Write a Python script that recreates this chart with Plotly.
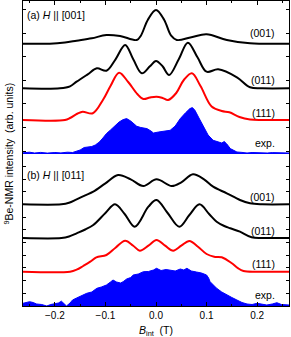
import plotly.graph_objects as go

# ---------------- data (B_int in T, intensity in arb. units) ----------------
# Panel (a) H || [001]
a001_B = [-0.263, -0.21, -0.18, -0.157, -0.127, -0.098, -0.071, -0.038, -0.03, -0.016, 0.0, 0.016, 0.03, 0.041, 0.07, 0.1, 0.14, 0.186, 0.21, 0.263]
a001_I = [0, 0, 1.2, 3, 5.4, 8.7, 7.7, 3.7, 8, 24, 33.7, 24, 8, 3.7, 6.5, 9.4, 3.7, 0.4, 0, 0]

a011_B = [-0.263, -0.19, -0.17, -0.157, -0.135, -0.117, -0.098, -0.08, -0.061, -0.045, -0.028, -0.012, 0.0, 0.013, 0.026, 0.045, 0.063, 0.082, 0.1, 0.123, 0.16, 0.186, 0.21, 0.263]
a011_I = [0, 0, 2, 6.6, 14, 20, 17.6, 29, 43.3, 29, 15, 22, 27.3, 22, 13.3, 29, 45.6, 31, 16.6, 19, 11, 1, 0, 0]

a111_B = [-0.263, -0.18, -0.17, -0.155, -0.145, -0.125, -0.105, -0.09, -0.073, -0.055, -0.037, -0.025, -0.012, 0.001, 0.013, 0.024, 0.04, 0.055, 0.071, 0.088, 0.11, 0.13, 0.145, 0.165, 0.186, 0.21, 0.263]
a111_I = [0, 0, 2, 6.5, 8.3, 6.7, 20, 34, 47.3, 38, 26, 21, 22.5, 23.3, 22, 20, 27, 40, 46.7, 34, 13.5, 9, 7.7, 3, 0.5, 0, 0]

aexp_B = [-0.263, -0.25, -0.24, -0.228, -0.215, -0.2, -0.188, -0.175, -0.165, -0.157, -0.15, -0.142, -0.135, -0.127, -0.12, -0.112, -0.105, -0.098, -0.09, -0.081, -0.073, -0.065, -0.058, -0.05, -0.044, -0.038, -0.03, -0.018, -0.01, -0.005, 0.005, 0.015, 0.028, 0.038, 0.048, 0.058, 0.067, 0.072, 0.077, 0.085, 0.094, 0.103, 0.113, 0.122, 0.13, 0.135, 0.14, 0.147, 0.155, 0.16, 0.17, 0.18, 0.19, 0.2, 0.21, 0.22, 0.23, 0.24, 0.25, 0.263]
aexp_I = [1.2, 1.8, 1.0, 1.6, 0.9, 1.5, 1.1, 1.8, 1.5, 2.5, 4, 6.5, 7, 7.5, 9, 12, 16, 20.4, 24, 28.4, 32, 34.4, 35.4, 33, 30, 27.7, 26.5, 25.4, 23, 21, 22, 22.5, 23.7, 28, 35.4, 41, 45.4, 46.4, 43.7, 36, 27, 19, 13.7, 12.5, 11, 12.5, 10, 5.4, 3, 2, 1.6, 1, 1.5, 1.2, 1.6, 1, 1.4, 1.2, 1.5, 1]

# Panel (b) H || [011]
b001_B = [-0.263, -0.187, -0.172, -0.157, -0.14, -0.124, -0.1, -0.075, -0.05, -0.025, 0.001, 0.031, 0.05, 0.073, 0.095, 0.113, 0.14, 0.166, 0.186, 0.21, 0.263]
b001_I = [0, 0, 1.5, 5, 9, 12.6, 21, 29.3, 25, 18.3, 25, 18.3, 22, 30, 25, 17.6, 11, 4.3, 1, 0, 0]

b011_B = [-0.263, -0.187, -0.172, -0.157, -0.14, -0.124, -0.1, -0.081, -0.062, -0.042, -0.015, 0.001, 0.023, 0.046, 0.066, 0.086, 0.105, 0.12, 0.135, 0.147, 0.166, 0.189, 0.21, 0.263]
b011_I = [0, 0, 1.5, 4.7, 8.5, 13, 25, 33.7, 24, 11.3, 31.3, 38, 25, 11.3, 23, 33.7, 24, 16.3, 12, 9.7, 6.3, 0.7, 0, 0]

b111_B = [-0.263, -0.17, -0.157, -0.144, -0.13, -0.118, -0.098, -0.08, -0.061, -0.045, -0.032, -0.015, 0.001, 0.018, 0.034, 0.05, 0.066, 0.083, 0.1, 0.115, 0.13, 0.15, 0.162, 0.173, 0.2, 0.263]
b111_I = [0, 0, 2, 5.7, 10, 14.4, 16.7, 24, 31, 26, 21, 26, 31.7, 26, 21, 26, 30.7, 25, 17.7, 15, 14.4, 8.4, 3.5, 0.7, 0, 0]

bexp_B = [-0.263, -0.25, -0.243, -0.236, -0.226, -0.216, -0.208, -0.2, -0.193, -0.187, -0.182, -0.177, -0.17, -0.165, -0.157, -0.147, -0.137, -0.127, -0.117, -0.108, -0.098, -0.09, -0.085, -0.078, -0.07, -0.065, -0.058, -0.05, -0.045, -0.035, -0.025, -0.015, -0.005, 0.001, 0.01, 0.02, 0.028, 0.038, 0.048, 0.055, 0.061, 0.07, 0.08, 0.09, 0.1, 0.104, 0.107, 0.112, 0.12, 0.13, 0.14, 0.15, 0.16, 0.17, 0.18, 0.19, 0.2, 0.21, 0.219, 0.23, 0.239, 0.248, 0.259, 0.263]
bexp_I = [2.7, 4.3, 3.5, 2, 1.5, 0, 1.5, 2, 3, 4.8, 2, 0, 3, 6, 8, 10.5, 12.7, 14, 17.7, 19, 21, 24, 26, 24, 23, 24.3, 27, 28.5, 31, 32, 34.3, 34.5, 36, 37.7, 35.5, 36.5, 36, 35, 37, 36, 37.7, 35, 34, 33, 31, 28, 24.3, 21.5, 17.7, 14, 11, 8.5, 6, 3.5, 2, 1.5, 2.7, 1.5, 1, 2, 3.3, 1.5, 0.7, 1]

labels = ["(001)", "(011)", "(111)", "exp."]

# vertical stacking offsets (layout)
off_a = [110.3, 65.7, 34.0]
off_b = [101.7, 68.0, 34.3]

BLACK = "#000000"
RED = "#ff0000"
BLUE = "#0000ff"
FONT = "Arial, Liberation Sans, sans-serif"

fig = go.Figure()

def add_curve(B, I, off, color, yaxis):
    fig.add_trace(go.Scatter(
        x=B, y=[v + off for v in I], mode="lines", yaxis=yaxis, xaxis="x",
        line=dict(color=color, width=2, shape="spline", smoothing=1.0),
        hoverinfo="skip", showlegend=False))

def add_exp(B, I, yaxis):
    fig.add_trace(go.Scatter(
        x=B, y=I, mode="lines", yaxis=yaxis, xaxis="x", fill="tozeroy",
        fillcolor=BLUE, line=dict(color=BLUE, width=1),
        hoverinfo="skip", showlegend=False))

# panel (a) -> y2
add_curve(a001_B, a001_I, off_a[0], BLACK, "y2")
add_curve(a011_B, a011_I, off_a[1], BLACK, "y2")
add_curve(a111_B, a111_I, off_a[2], RED, "y2")
add_exp(aexp_B, aexp_I, "y2")
# panel (b) -> y
add_curve(b001_B, b001_I, off_b[0], BLACK, "y")
add_curve(b011_B, b011_I, off_b[1], BLACK, "y")
add_curve(b111_B, b111_I, off_b[2], RED, "y")
add_exp(bexp_B, bexp_I, "y")

xr = [-0.263, 0.263]
split = 152 / 305

common_x = dict(range=xr, ticks="inside", ticklen=4, tickcolor=BLACK,
                dtick=0.1, tick0=0, showline=True, linecolor=BLACK, linewidth=1,
                showgrid=False, zeroline=False,
                minor=dict(ticks="inside", ticklen=2, dtick=0.05, tickcolor=BLACK))

fig.update_layout(
    width=291, height=337,
    margin=dict(l=23, r=2, t=1, b=31),
    paper_bgcolor="white", plot_bgcolor="white",
    font=dict(family=FONT, size=10, color=BLACK),
    xaxis=dict(**common_x, anchor="y", side="bottom", tickformat=".1f",
               tickfont=dict(size=10, family=FONT)),
    xaxis2=dict(**common_x, anchor="y2", side="top", overlaying="x",
                showticklabels=False, matches="x"),
    yaxis=dict(domain=[0, split], range=[0, 152], showticklabels=False,
               ticks="inside", ticklen=3, dtick=12.67, tick0=0, tickcolor=BLACK,
               showline=True, mirror="ticks", linecolor=BLACK, linewidth=1,
               showgrid=False, zeroline=False),
    yaxis2=dict(domain=[split, 1], range=[0, 153], showticklabels=False,
                ticks="inside", ticklen=3, dtick=23.6, tick0=3, tickcolor=BLACK,
                showline=True, mirror="ticks", linecolor=BLACK, linewidth=1,
                showgrid=False, zeroline=False),
)

# dummy trace to make xaxis2 render
fig.add_trace(go.Scatter(x=[None], y=[None], xaxis="x2", yaxis="y2",
                         showlegend=False, hoverinfo="skip"))

ann = []
ann.append(dict(text="(a) <i>H</i> || [001]", x=-0.259, y=139, xref="x", yref="y2",
                xanchor="left", yanchor="middle", showarrow=False,
                font=dict(size=10.5, family=FONT)))
ann.append(dict(text="(b) <i>H</i> || [011]", x=-0.259, y=131, xref="x", yref="y",
                xanchor="left", yanchor="middle", showarrow=False,
                font=dict(size=10.5, family=FONT)))
ya = [120.7, 74, 40.7, 10.7]
yb = [109.3, 75.3, 42, 11]
for lab, yy in zip(labels, ya):
    ann.append(dict(text=lab, x=0.2396, y=yy, xref="x", yref="y2", xanchor="right",
                    yanchor="middle", showarrow=False, font=dict(size=10.5, family=FONT)))
for lab, yy in zip(labels, yb):
    ann.append(dict(text=lab, x=0.2396, y=yy, xref="x", yref="y", xanchor="right",
                    yanchor="middle", showarrow=False, font=dict(size=10.5, family=FONT)))
ann.append(dict(text="<i>B</i><sub>int</sub>  (T)", x=0.0, y=-0.082, xref="x", yref="paper",
                xanchor="center", yanchor="middle", showarrow=False,
                font=dict(size=10.5, family=FONT)))
ann.append(dict(text="<sup>9</sup>Be-NMR intensity  (arb. units)", x=-0.056, y=0.5,
                xref="paper", yref="paper", xanchor="center", yanchor="middle",
                textangle=-90, showarrow=False, font=dict(size=10.5, family=FONT)))
fig.update_layout(annotations=ann)

fig.write_html("out.html",
               config={"displayModeBar": False, "staticPlot": True},
               post_script="document.body.style.margin='0';document.body.style.overflow='hidden';")
